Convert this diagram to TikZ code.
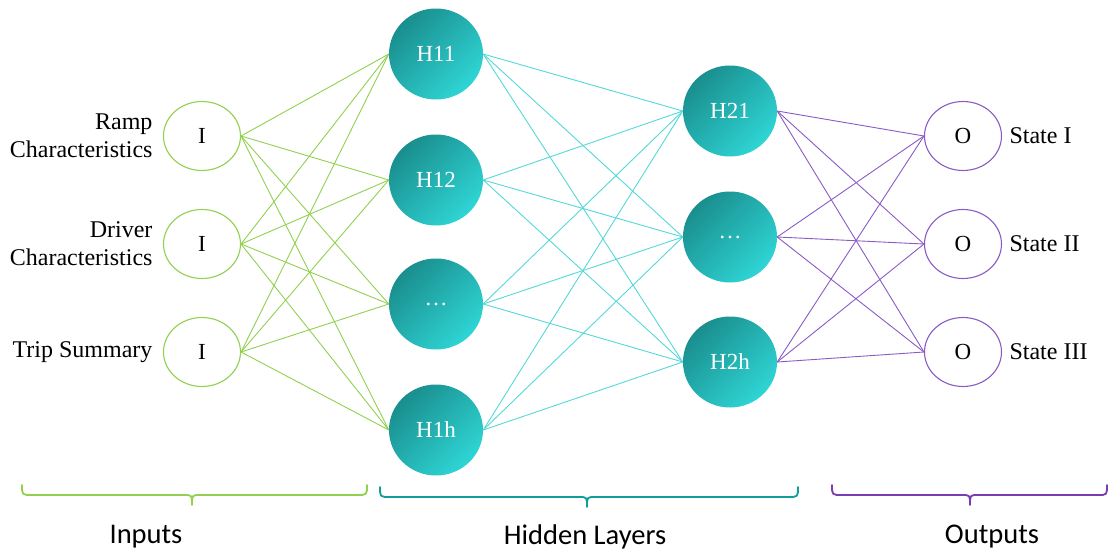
\documentclass[tikz,border=0pt]{standalone}
\usepackage{fontspec}
\setmainfont{Liberation Serif}
\newfontfamily\calib{Carlito}
\usetikzlibrary{shapes.geometric,backgrounds}
\definecolor{ingreen}{HTML}{92D050}
\definecolor{tealdark}{HTML}{1A8E8E}
\definecolor{teallight}{HTML}{2FD5D5}
\definecolor{edgecyan}{HTML}{55D8D8}
\definecolor{outpurple}{HTML}{8A5BC4}
\definecolor{bracegreen}{HTML}{92D050}
\definecolor{braceteal}{HTML}{0E9E9E}
\definecolor{bracepurple}{HTML}{7A3CB0}
\tikzset{
  inode/.style={ellipse, draw=ingreen, line width=1.1pt, fill=white, minimum width=77pt, minimum height=69pt, inner sep=0pt, font=\fontsize{23}{27}\selectfont},
  onode/.style={ellipse, draw=outpurple, line width=1.1pt, fill=white, minimum width=77pt, minimum height=69pt, inner sep=0pt, font=\fontsize{23}{27}\selectfont},
  hnode/.style={ellipse, minimum width=94pt, minimum height=91pt, inner sep=0pt, left color=tealdark, right color=teallight, shading angle=45, text=white, font=\fontsize{23}{27}\selectfont},
  inlabel/.style={anchor=east, align=right, font=\fontsize{24}{28}\selectfont},
  outlabel/.style={anchor=west, font=\fontsize{24}{28}\selectfont},
  grouplabel/.style={font=\calib\fontsize{28.5}{32}\selectfont},
  gedge/.style={draw=ingreen, line width=0.9pt},
  cedge/.style={draw=edgecyan, line width=0.9pt},
  pedge/.style={draw=outpurple, line width=0.9pt},
  bracepath/.style={line width=1.8pt, line cap=round, line join=round}
}
\begin{document}
\begin{tikzpicture}[x=1pt,y=-1pt]
\useasboundingbox (0,0) rectangle (1109,552);
% input nodes
\node[inode] (i1) at (202,136) {I};
\node[inode] (i2) at (202,244) {I};
\node[inode] (i3) at (202,352) {I};
\node[inlabel] (l1) at (156,136) {Ramp\\Characteristics};
\node[inlabel] (l2) at (156,244) {Driver\\Characteristics};
\node[inlabel] (l3) at (156,352) {Trip Summary};
% hidden layer 1
\node[hnode] (h1) at (436,54) {H11};
\node[hnode] (h2) at (436,180) {H12};
\node[hnode] (h3) at (436,304) {\dots};
\node[hnode] (h4) at (436,430) {H1h};
% hidden layer 2
\node[hnode] (g1) at (730,111) {H21};
\node[hnode] (g2) at (730,237) {\dots};
\node[hnode] (g3) at (730,362) {H2h};
% outputs
\node[onode] (o1) at (963,136) {O};
\node[onode] (o2) at (963,244) {O};
\node[onode] (o3) at (963,352) {O};
\node[outlabel] (s1) at (1006,136) {State I};
\node[outlabel] (s2) at (1006,244) {State II};
\node[outlabel] (s3) at (1006,352) {State III};
% edges
\begin{pgfonlayer}{background}
\foreach \a in {i1,i2,i3}{\foreach \b in {h1,h2,h3,h4}{\draw[gedge] (\a.east) -- (\b.west);}}
\foreach \a in {h1,h2,h3,h4}{\foreach \b in {g1,g2,g3}{\draw[cedge] (\a.east) -- (\b.west);}}
\foreach \a in {g1,g2,g3}{\foreach \b in {o1,o2,o3}{\draw[pedge] (\a.east) -- (\b.west);}}
\end{pgfonlayer}
% braces
\draw[bracepath, draw=bracegreen] (22,485) .. controls (22,495) .. (32,495) -- (184,495) .. controls (192,495) .. (192,505) .. controls (192,495) .. (200,495) -- (357,495) .. controls (367,495) .. (367,485);
\draw[bracepath, draw=braceteal] (380,487) .. controls (380,497) .. (390,497) -- (579,497) .. controls (587,497) .. (587,507) .. controls (587,497) .. (595,497) -- (788,497) .. controls (798,497) .. (798,487);
\draw[bracepath, draw=bracepurple] (832,485) .. controls (832,495) .. (842,495) -- (962,495) .. controls (970,495) .. (970,505) .. controls (970,495) .. (978,495) -- (1098,495) .. controls (1107,495) .. (1107,485);
\node[grouplabel] (gl1) at (146,537) {Inputs};
\node[grouplabel] (gl2) at (585,537) {Hidden Layers};
\node[grouplabel] (gl3) at (992,537) {Outputs};
\end{tikzpicture}
\end{document}
